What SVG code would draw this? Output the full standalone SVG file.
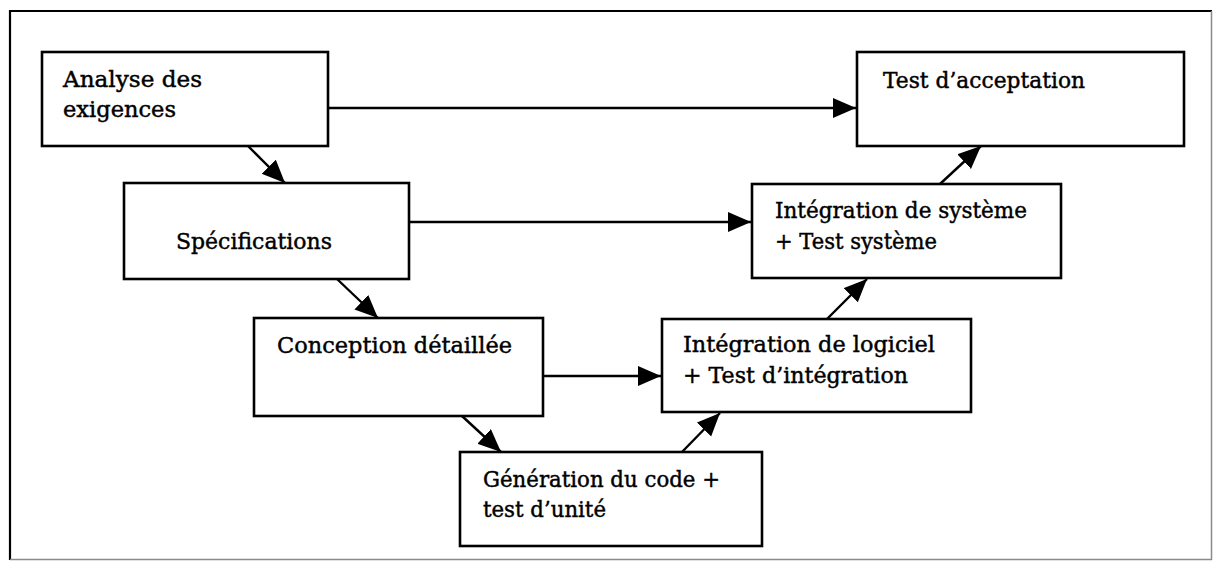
<svg xmlns="http://www.w3.org/2000/svg" width="1213" height="561" viewBox="0 0 1213 561">
  <style>
    .box { fill: #ffffff; stroke: #000000; stroke-width: 2.6; }
    .lbl { font-family: "DejaVu Serif", "Liberation Serif", serif; font-size: 23px; fill: #000000; stroke: #000000; stroke-width: 0.45; }
    .edge { fill: none; stroke: #000000; stroke-width: 2.4; }
    .frame-dark { stroke: #000000; stroke-width: 2.2; fill: none; }
    .frame-light { stroke: #8a8a8a; stroke-width: 1.5; fill: none; }
  </style>
  <defs>
    <marker id="arrow" markerUnits="userSpaceOnUse" markerWidth="25" markerHeight="21" refX="23" refY="10" orient="auto">
      <path d="M0,0 L23,10 L0,20 Z" fill="#000000"/>
    </marker>
  </defs>

  <rect x="0" y="0" width="1213" height="561" fill="#ffffff"/>

  <!-- outer frame -->
  <g id="frame">
    <path class="frame-dark" d="M10,560 L10,11 L1212,11"/>
    <path class="frame-light" d="M1211.5,11 L1211.5,560 M10,559.5 L1212,559.5"/>
  </g>

  <!-- connectors -->
  <g id="connectors">
    <line class="edge" x1="328" y1="108" x2="856" y2="108" marker-end="url(#arrow)"/>
    <line class="edge" x1="409" y1="222" x2="751" y2="222" marker-end="url(#arrow)"/>
    <line class="edge" x1="543" y1="376" x2="661" y2="376" marker-end="url(#arrow)"/>
    <line class="edge" x1="248" y1="146" x2="285" y2="183" marker-end="url(#arrow)"/>
    <line class="edge" x1="337" y1="279" x2="378" y2="318" marker-end="url(#arrow)"/>
    <line class="edge" x1="462" y1="416" x2="501" y2="452" marker-end="url(#arrow)"/>
    <line class="edge" x1="682" y1="452" x2="720" y2="413" marker-end="url(#arrow)"/>
    <line class="edge" x1="827" y1="319" x2="867" y2="279" marker-end="url(#arrow)"/>
    <line class="edge" x1="940" y1="184" x2="981" y2="146" marker-end="url(#arrow)"/>
  </g>

  <g id="analyse">
    <rect class="box" x="42" y="52" width="286" height="94"/>
    <text class="lbl" x="63" y="87" textLength="139" lengthAdjust="spacingAndGlyphs">Analyse des</text>
    <text class="lbl" x="63" y="117" textLength="113" lengthAdjust="spacingAndGlyphs">exigences</text>
  </g>

  <g id="acceptation">
    <rect class="box" x="857" y="52" width="327" height="94"/>
    <text class="lbl" x="883" y="88" textLength="202" lengthAdjust="spacingAndGlyphs">Test d’acceptation</text>
  </g>

  <g id="specifications">
    <rect class="box" x="124" y="183" width="285" height="96"/>
    <text class="lbl" x="176" y="249" textLength="156" lengthAdjust="spacingAndGlyphs">Spécifications</text>
  </g>

  <g id="integration-systeme">
    <rect class="box" x="752" y="184" width="309" height="94"/>
    <text class="lbl" x="775" y="218" textLength="252" lengthAdjust="spacingAndGlyphs">Intégration de système</text>
    <text class="lbl" x="775" y="249" textLength="162" lengthAdjust="spacingAndGlyphs">+ Test système</text>
  </g>

  <g id="conception">
    <rect class="box" x="254" y="318" width="289" height="98"/>
    <text class="lbl" x="277" y="353" textLength="235" lengthAdjust="spacingAndGlyphs">Conception détaillée</text>
  </g>

  <g id="integration-logiciel">
    <rect class="box" x="662" y="319" width="309" height="93"/>
    <text class="lbl" x="683" y="352" textLength="252" lengthAdjust="spacingAndGlyphs">Intégration de logiciel</text>
    <text class="lbl" x="683" y="383" textLength="225" lengthAdjust="spacingAndGlyphs">+ Test d’intégration</text>
  </g>

  <g id="generation">
    <rect class="box" x="460" y="452" width="302" height="94"/>
    <text class="lbl" x="483" y="487" textLength="237" lengthAdjust="spacingAndGlyphs">Génération du code +</text>
    <text class="lbl" x="483" y="517" textLength="123" lengthAdjust="spacingAndGlyphs">test d’unité</text>
  </g>
</svg>
